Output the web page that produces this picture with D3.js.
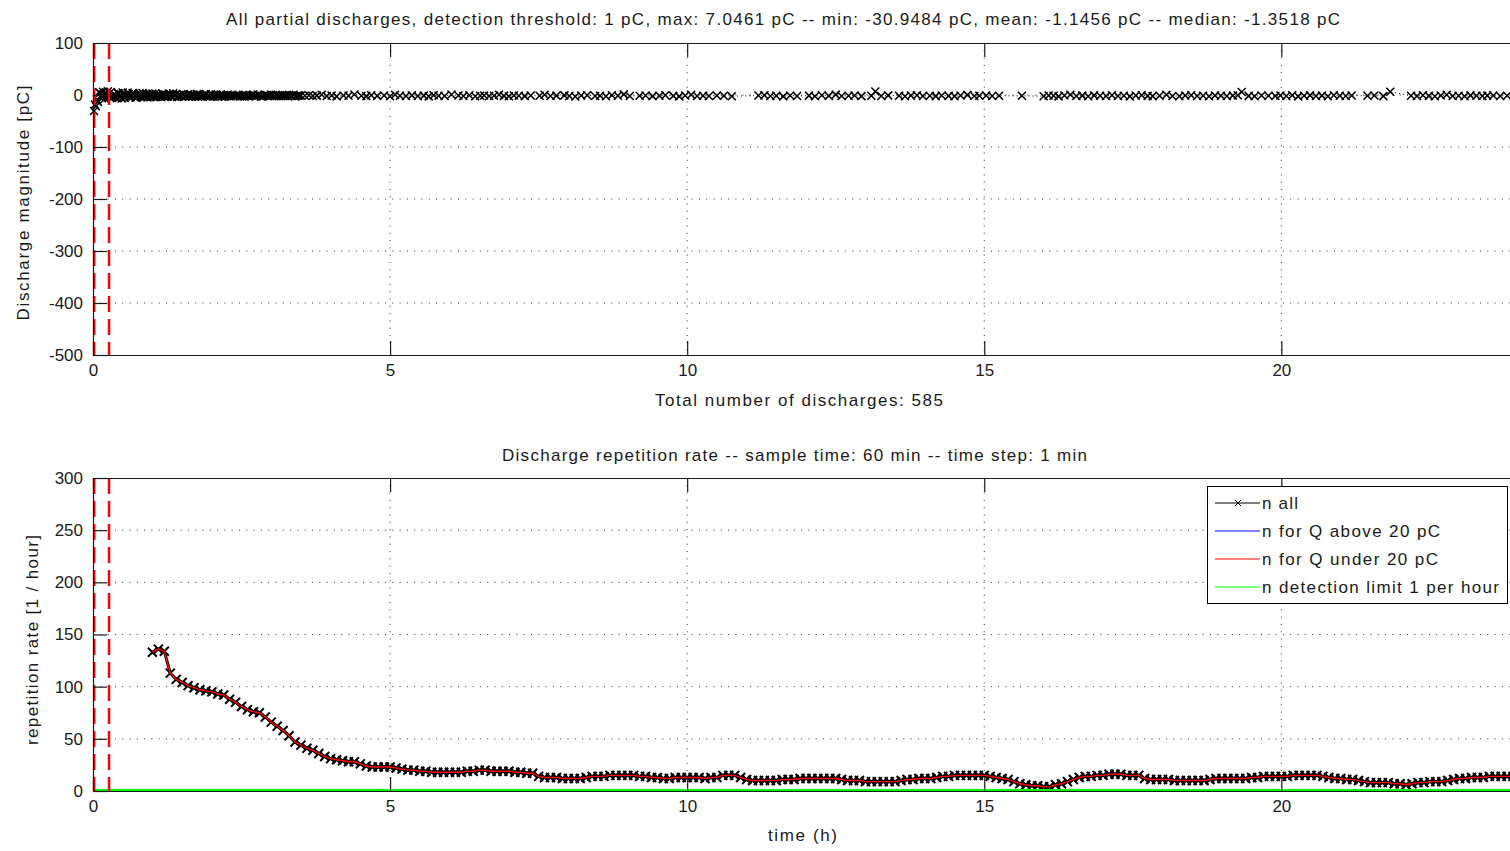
<!DOCTYPE html>
<html><head><meta charset="utf-8">
<script src="https://cdn.jsdelivr.net/npm/d3@7"></script>
<style>
body{margin:0;background:#fff}
svg{display:block}
text{font-family:"Liberation Sans",Arial,Helvetica,sans-serif;fill:#1a1a1a}
</style>
</head><body>
<svg id="c" width="1510" height="851"></svg>
<script>
// ---------- data ----------
const xTicks = [0, 5, 10, 15, 20];
const yTicksTop = [100, 0, -100, -200, -300, -400, -500];
const yTicksBottom = [0, 50, 100, 150, 200, 250, 300];
const markerLines = [0.02, 0.27]; // hours, red dashed

const title1 = "All partial discharges, detection threshold: 1 pC, max: 7.0461 pC -- min: -30.9484 pC, mean: -1.1456 pC -- median: -1.3518 pC";
const xlabel1 = "Total number of discharges: 585";
const ylabel1 = "Discharge magnitude [pC]";
const title2 = "Discharge repetition rate -- sample time: 60 min -- time step: 1 min";
const xlabel2 = "time (h)";
const ylabel2 = "repetition rate [1 / hour]";
const legendLabels = ["n all", "n for Q above 20 pC", "n for Q under 20 pC", "n detection limit 1 per hour"];

// discharges: [time in minutes, magnitude pC]
const discharges = [
[1,-30.9],[3,-21.5],[5,-13.2],[7,4.1],[9,-6.3],[11,2.2],[13,-4.8],[15,7.0],[17,-2.7],[19,-5.9],
[21,1.8],[23,-3.4],[25,3.9],[27,-1.2],[29,-6.8],[31,0.6],[33,-2.9],[35,4.6],[37,-4.1],[39,-0.7],
[41,2.5],[43,-5.2],[45,-1.8],[47,3.1],[49,-3.7],[51,0.9],[53,-2.2],[55,-4.6],[57,1.7],[59,-1.4],
[61,-3.3],[63,2.8],[65,-0.5],[67,-2.6],[69,-4.4],[71,1.2],[73,-1.9],[75,-3.1],[77,0.4],[79,-2.4],
[81,3.3],[83,-1.1],[85,-3.8],[87,-0.2],[89,-2.0],[91,1.5],[93,-2.9],[95,-1.3],[97,-3.5],[99,0.8],
[101,-1.6],[103,-2.7],[105,2.1],[107,-0.9],[109,-3.0],[111,-1.5],[113,0.3],[115,-2.3],[117,-1.0],[119,1.4],
[121,-2.8],[123,-1.7],[125,-0.4],[127,-2.5],[129,0.9],[131,-1.8],[133,-3.2],[135,-0.6],[137,-1.4],[139,-2.1],
[141,-1.2],[144,-2.4],[147,0.5],[150,-1.9],[153,-3.1],[156,-0.8],[159,-1.6],[162,1.1],[165,-2.2],[168,-1.0],
[171,-2.8],[174,-0.3],[177,-1.7],[180,0.7],[183,-2.5],[186,-1.3],[189,-0.6],[192,-2.0],[195,-1.1],[198,0.2],
[201,-1.8],[204,-2.6],[207,-0.9],[210,-1.4],
[214,-1.5],[218,-0.4],[222,-2.1],[226,-1.2],[231,0.6],[236,-1.9],[241,-1.0],[246,-2.7],[253,-0.8],[258,-1.6],
[264,0.9],[271,-1.3],[276,-2.2],[281,-0.5],[287,-1.7],[294,-1.1],[300,-2.4],[305,0.4],[310,-1.4],[316,-2.0],
[322,-0.7],[328,-1.8],[334,-1.2],[339,-2.6],[344,-0.3],[349,-1.5],[355,-2.1],[362,0.8],[369,-1.0],[374,-1.9],
[380,-0.6],[386,-2.3],[391,-1.4],
[395,-0.9],[400,-2.0],[405,-1.3],[410,0.5],[415,-1.7],[420,-2.5],[425,-0.8],[430,-1.5],[436,-2.2],[442,-1.0],
[451,-1.6],[456,0.3],[462,-2.1],[468,-1.2],[476,-0.7],[481,-1.9],[487,-2.8],[493,-1.1],[499,-0.4],[507,-1.8],
[512,-1.3],[518,-2.4],[524,-0.6],[530,-1.5],[536,1.2],[542,-2.0],[552,-1.4],[558,-0.9],[565,-2.2],[572,-1.6],
[578,-0.5],[586,-1.7],[592,-2.6],[598,-1.0],[604,0.4],[610,-1.9],[616,-1.3],[622,-2.1],[630,-0.8],[637,-1.6],
[645,-2.3],[672,-1.1],[678,-0.4],[684,-2.0],[690,-1.5],[697,-2.7],[704,-0.9],[711,-1.8],[723,-1.2],[729,-2.4],
[736,-0.6],[743,-1.7],[750,0.7],[756,-2.0],[763,-1.4],[769,-0.8],[776,-2.2],[786,-1.5],[790,6.8],[796,-2.1],
[803,-0.7],[814,-1.6],[820,-2.5],[826,-1.0],[832,-0.3],[838,-1.9],[845,-1.3],[851,-2.2],[857,-0.8],[864,-1.7],
[870,-2.4],[876,-1.1],[883,0.2],[890,-1.8],[895,-1.3],
[902,-0.9],[908,-2.0],[915,-1.4],[938,-1.6],[960,-2.3],[965,-0.8],[970,-1.5],[975,-2.6],[981,-1.1],[987,0.6],
[993,-1.8],[999,-1.2],[1005,-2.4],[1011,-0.7],[1017,-1.6],[1023,-2.1],[1029,-0.5],[1035,-1.9],[1041,-1.3],[1047,-2.7],
[1053,-1.0],[1059,-0.4],[1065,-1.7],[1070,-2.2],[1077,-1.4],[1084,0.3],[1090,-1.8],[1097,-2.5],[1103,-1.1],[1109,-0.6],
[1115,-1.9],[1121,-1.3],[1127,-2.3],[1133,-0.8],[1139,-1.6],[1145,-2.0],[1151,-1.2],[1156,-0.5],[1160,5.9],[1167,-1.7],
[1173,-2.4],[1180,-0.9],[1187,-1.5],[1194,-2.1],[1199,-1.0],[1205,-1.8],[1211,-0.3],[1217,-2.6],[1223,-1.4],[1229,-0.7],
[1235,-1.9],[1241,-1.2],[1247,-2.3],[1253,-0.6],[1259,-1.6],[1265,-2.0],[1271,-1.1],[1287,-1.5],[1294,-0.8],[1303,-2.2],
[1310,6.2],[1331,-1.3],[1337,-2.1],[1343,-0.6],[1349,-1.7],[1355,-2.5],[1361,-1.0],[1367,0.4],[1373,-1.9],[1379,-1.4],
[1385,-2.3],[1391,-0.7],[1397,-1.6],[1403,-2.0],[1408,-1.2],[1414,-0.9],[1421,-1.8],[1428,-1.3],[1435,-2.1]
];
// further discharges in the dense first hours: [time in minutes, magnitude pC]
const dischargesEarly = [
[2,-18.4],[4,-8.7],[6,5.2],[8,-3.9],[10,6.1],[12,-7.1],[14,1.3],[16,-2.2],[18,5.6],[20,-4.3],
[22,0.2],[24,-6.0],[26,2.9],[28,-3.0],[30,4.8],[32,-5.5],[34,-0.9],[36,2.0],[38,-3.6],[40,3.7],
[42,-1.5],[44,-4.9],[46,0.7],[48,-2.8],[50,4.0],[52,-3.9],[54,1.9],[56,-0.8],[58,-4.2],[60,2.6],
[62,-2.1],[64,-4.0],[66,1.0],[68,-1.3],[70,3.0],[72,-3.4],[74,-0.1],[76,-2.5],[78,2.2],[80,-3.7],
[82,-0.6],[84,1.8],[86,-2.9],[88,-1.0],[90,-3.3],[92,0.5],[94,-2.2],[96,1.6],[98,-1.2],[100,-3.0],
[102,0.1],[104,-1.9],[106,-3.4],[108,0.9],[110,-2.6],[112,-1.1],[114,1.7],[116,-2.0],[118,-3.1],[120,-0.3],
[122,-1.6],[124,0.8],[126,-2.7],[128,-1.2],[130,-3.3],[132,0.0],[134,-1.9],[136,1.0],[138,-2.4],[140,-0.8],
[142.5,-2.0],[145.5,-0.7],[148.5,-2.9],[151.5,0.3],[154.5,-1.5],[157.5,-2.3],[160.5,-0.4],[163.5,-1.8],[166.5,0.9],[169.5,-2.6],
[172.5,-1.4],[175.5,-0.2],[178.5,-2.1],[181.5,-1.0],[184.5,0.5],[187.5,-2.4],[190.5,-1.6],[193.5,-0.5],[196.5,-2.2],[199.5,-1.3],
[202.5,0.4],[205.5,-1.9],[208.5,-1.1]
];

// repetition rate, sampled every 0.1 h from 1.0 h
const rateStart = 1.0, rateStep = 0.1;
const rateAll = [
133,136,134,113,107,104,101,99,97,96,
95,93,92,88,85,81,78,76,75,71,
66,62,58,53,47,44,41,39,36,33,
31,30,29,28,28,26,24,23,23,23,
23,22,21,20,20,19,19,18,18,18,
18,18,18,19,19,20,20,19,19,19,
19,18,18,17,17,14,13,13,13,12,
12,12,12,13,14,14,14,15,15,15,
15,15,14,14,13,13,12,12,13,13,
13,13,13,12,13,13,15,15,15,13,
11,10,10,10,10,10,11,11,11,12,
12,12,12,12,12,12,11,10,10,10,
9,9,9,9,9,9,10,11,11,12,
12,12,13,14,14,15,15,15,15,15,
15,14,13,12,11,9,7,6,5,5,
4,4,6,7,9,11,13,14,14,15,
15,16,16,16,15,15,15,12,11,11,
11,11,10,10,10,10,10,10,11,12,
12,12,12,12,12,13,13,14,14,14,
14,14,15,15,15,15,15,14,13,12,
12,11,11,10,9,8,8,8,8,7,
7,6,7,8,8,9,9,9,10,11,
12,12,13,13,13,14,14,14,14,14,
14
];
const rateUnder20 = rateAll; // all readings below 20 pC coincide with n all
const rateAbove20 = [[1.0,1],[1.02,0],[24,0]]; // [h, n]
const detectionLimit = 1;

// ---------- layout ----------
const svg = d3.select("#c");
const X0 = 93, X1 = 1519;
const x = d3.scaleLinear().domain([0, 24]).range([X0, X1]);
const yT = d3.scaleLinear().domain([-500, 100]).range([355, 43]);
const yB = d3.scaleLinear().domain([0, 300]).range([791, 478]);
const AX = "#1a1a1a";
const FS = 17;

function panel(y, yTicks, yTop, yBot) {
  const g = svg.append("g");
  g.selectAll(".gx").data(xTicks.filter(t => t > 0)).join("line")
    .attr("x1", d => x(d)).attr("x2", d => x(d)).attr("y1", yTop).attr("y2", yBot)
    .attr("stroke", "#333").attr("stroke-width", 1).attr("stroke-dasharray", "1,6.3");
  g.selectAll(".gy").data(yTicks.filter(t => y(t) > yTop + 1 && y(t) < yBot - 1)).join("line")
    .attr("x1", X0).attr("x2", X1).attr("y1", d => y(d)).attr("y2", d => y(d))
    .attr("stroke", "#333").attr("stroke-width", 1).attr("stroke-dasharray", "1,6.3");
  return g;
}

function axes(y, yTicks, yTop, yBot) {
  const g = svg.append("g");
  const ax = g.append("g").attr("transform", `translate(0,${yBot})`)
    .call(d3.axisBottom(x).tickValues(xTicks).tickFormat(d => String(d)).tickSizeInner(-14).tickSizeOuter(0).tickPadding(9));
  const at = g.append("g").attr("transform", `translate(0,${yTop})`)
    .call(d3.axisTop(x).tickValues(xTicks).tickFormat("").tickSizeInner(-14).tickSizeOuter(0));
  const ay = g.append("g").attr("transform", `translate(${X0},0)`)
    .call(d3.axisLeft(y).tickValues(yTicks).tickFormat(d => String(d)).tickSizeInner(-14).tickSizeOuter(0).tickPadding(10));
  [ax, at, ay].forEach(a => {
    a.selectAll("path,line").attr("stroke", AX).attr("stroke-width", 1.2);
    a.selectAll("text").attr("font-size", FS).attr("fill", "#1a1a1a")
      .style("font-family", '"Liberation Sans",Arial,sans-serif');
  });
  return g;
}

const xMarkTop = "M-4,-4L4,4M-4,4L4,-4";
const xMarkRate = "M-4.5,-4.5L4.5,4.5M-4.5,4.5L4.5,-4.5";

// ---------- top panel ----------
panel(yT, yTicksTop, 43, 355);
const allDischarges = discharges.concat(dischargesEarly).sort((a, b) => a[0] - b[0]);
const topG = svg.append("g");
topG.append("path")
  .datum(allDischarges)
  .attr("d", d3.line().x(d => x(d[0] / 60)).y(d => yT(d[1])))
  .attr("fill", "none").attr("stroke", "#000").attr("stroke-width", 1).attr("stroke-dasharray", "1,3");
topG.selectAll(".m").data(allDischarges).join("path")
  .attr("transform", d => `translate(${x(d[0] / 60)},${yT(d[1])})`)
  .attr("d", xMarkTop).attr("stroke", "#000").attr("stroke-width", 1.5).attr("fill", "none");
topG.selectAll(".rl").data(markerLines).join("line")
  .attr("x1", d => x(d)).attr("x2", d => x(d)).attr("y1", 43).attr("y2", 355)
  .attr("stroke", "#ff0000").attr("stroke-width", 2.5).attr("stroke-dasharray", "16,7");
axes(yT, yTicksTop, 43, 355);

// ---------- bottom panel ----------
panel(yB, yTicksBottom, 478, 791);
const botG = svg.append("g");
const rateData = rateAll.map((v, i) => [rateStart + i * rateStep, v]);
const rateRed = rateUnder20.map((v, i) => [rateStart + i * rateStep, v]);
const lineB = d3.line().x(d => x(d[0])).y(d => yB(d[1]));
botG.append("path").datum(rateData).attr("d", lineB)
  .attr("fill", "none").attr("stroke", "#000").attr("stroke-width", 3);
botG.selectAll(".m").data(rateData).join("path")
  .attr("transform", d => `translate(${x(d[0])},${yB(d[1])})`)
  .attr("d", xMarkRate).attr("stroke", "#000").attr("stroke-width", 2).attr("fill", "none");
botG.append("path").datum(rateAbove20).attr("d", lineB)
  .attr("fill", "none").attr("stroke", "#0000ff").attr("stroke-width", 1);
botG.append("path").datum(rateRed).attr("d", lineB)
  .attr("fill", "none").attr("stroke", "#ff0000").attr("stroke-width", 1.4);
botG.append("line")
  .attr("x1", x(0)).attr("x2", x(24)).attr("y1", yB(detectionLimit)).attr("y2", yB(detectionLimit))
  .attr("stroke", "#00ff00").attr("stroke-width", 2);
botG.selectAll(".rl").data(markerLines).join("line")
  .attr("x1", d => x(d)).attr("x2", d => x(d)).attr("y1", 478).attr("y2", 791)
  .attr("stroke", "#ff0000").attr("stroke-width", 2.5).attr("stroke-dasharray", "16,7");
axes(yB, yTicksBottom, 478, 791);

// ---------- legend ----------
const lg = svg.append("g");
lg.append("rect").attr("x", 1207.5).attr("y", 486.5).attr("width", 300).attr("height", 117)
  .attr("fill", "#fff").attr("stroke", "#000").attr("stroke-width", 1);
const legColors = ["#000", "#0000ff", "#ff0000", "#00ff00"];
const legW = [36, 178, 176, 237];
const legY = [503, 531, 559, 587];
legendLabels.forEach((lab, i) => {
  lg.append("line").attr("x1", 1215).attr("x2", 1260).attr("y1", legY[i]).attr("y2", legY[i])
    .attr("stroke", legColors[i]).attr("stroke-width", 1.2);
  if (i === 0) lg.append("path").attr("transform", `translate(1238,${legY[i]})`)
    .attr("d", "M-3,-3L3,3M-3,3L3,-3").attr("stroke", "#000").attr("fill", "none");
  lg.append("text").attr("x", 1262).attr("y", legY[i] + 6).attr("font-size", FS)
    .attr("textLength", legW[i]).attr("lengthAdjust", "spacing").text(lab);
});

// ---------- labels ----------
function label(txt, cx, cy, w, rot) {
  const t = svg.append("text").attr("font-size", FS).attr("text-anchor", "middle")
    .attr("textLength", w).attr("lengthAdjust", "spacing").text(txt);
  if (rot) t.attr("transform", `translate(${cx},${cy}) rotate(-90)`);
  else t.attr("x", cx).attr("y", cy);
}
label(title1, 783, 25, 1114);
label(xlabel1, 799, 406, 288);
label(title2, 794.5, 461, 585);
label(xlabel2, 802.5, 841, 69);
label(ylabel1, 29, 203, 235, true);
label(ylabel2, 38, 640, 210, true);
</script>
</body></html>
